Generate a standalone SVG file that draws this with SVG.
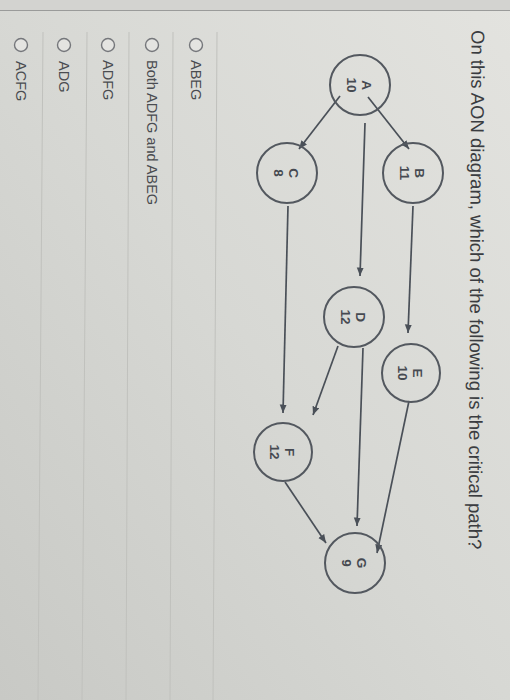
<svg xmlns="http://www.w3.org/2000/svg" width="510" height="700" viewBox="0 0 510 700">
  <defs>
    <linearGradient id="bg" x1="1" y1="0" x2="0" y2="1">
      <stop offset="0" stop-color="#e3e3df"/>
      <stop offset="0.5" stop-color="#d7d8d4"/>
      <stop offset="1" stop-color="#c8c9c5"/>
    </linearGradient>
    <marker id="arr" markerUnits="userSpaceOnUse" markerWidth="10" markerHeight="8" refX="8.5" refY="3.5" orient="auto">
      <path d="M0,0 L8.5,3.5 L0,7 z" fill="#4a5058"/>
    </marker>
    <style>
      .node circle { fill: none; stroke: #53585f; stroke-width: 2; }
      .node text { font-family: "Liberation Sans", Arial, sans-serif; font-weight: bold; font-size: 13.5px; fill: #464a51; text-anchor: middle; }
      .edge { stroke: #4a5058; stroke-width: 1.7; fill: none; marker-end: url(#arr); }
      .divider { stroke: #c0c1bd; stroke-width: 1; }
      .radio { fill: #e4e4e1; stroke: #75777b; stroke-width: 1.4; }
      .opt { font-family: "Liberation Sans", Arial, sans-serif; font-size: 14.5px; fill: #4a4c50; }
      .q { font-family: "Liberation Sans", Arial, sans-serif; font-size: 18.5px; fill: #3a3c40; }
    </style>
  </defs>

  <rect x="0" y="0" width="510" height="700" fill="url(#bg)"/>
  <rect x="0" y="0" width="510" height="10" fill="#d3d3d0"/>
  <line x1="0" y1="10.5" x2="510" y2="10.5" stroke="#9a9b9a" stroke-width="1"/>

  <!-- question -->
  <text class="q" transform="translate(471.5,30) rotate(90.33)">On this AON diagram, which of the following is the critical path?</text>

  <!-- option dividers -->
  <g id="dividers">
    <line class="divider" x1="43" y1="32" x2="38" y2="700"/>
    <line class="divider" x1="87" y1="32" x2="82" y2="700"/>
    <line class="divider" x1="129" y1="32" x2="126" y2="700"/>
    <line class="divider" x1="173" y1="32" x2="170" y2="700"/>
    <line class="divider" x1="217" y1="32" x2="213" y2="700"/>
  </g>

  <!-- options -->
  <g id="opt-abeg">
    <circle class="radio" cx="196" cy="45" r="6.5"/>
    <text class="opt" transform="translate(191,60) rotate(90)">ABEG</text>
  </g>
  <g id="opt-both">
    <circle class="radio" cx="152" cy="45" r="6.5"/>
    <text class="opt" transform="translate(147,60) rotate(90)">Both ADFG and ABEG</text>
  </g>
  <g id="opt-adfg">
    <circle class="radio" cx="108" cy="45" r="6.5"/>
    <text class="opt" transform="translate(103,60) rotate(90)">ADFG</text>
  </g>
  <g id="opt-adg">
    <circle class="radio" cx="64" cy="45" r="6.5"/>
    <text class="opt" transform="translate(59,61) rotate(90)">ADG</text>
  </g>
  <g id="opt-acfg">
    <circle class="radio" cx="21" cy="45" r="6.5"/>
    <text class="opt" transform="translate(16,61) rotate(90)">ACFG</text>
  </g>

  <!-- connectors -->
  <g id="connectors">
    <line class="edge" x1="368" y1="97" x2="409" y2="149"/>
    <line class="edge" x1="340" y1="96" x2="299" y2="149"/>
    <line class="edge" x1="365" y1="123" x2="360" y2="276"/>
    <line class="edge" x1="413" y1="206" x2="408" y2="333"/>
    <line class="edge" x1="288" y1="206" x2="283" y2="413"/>
    <line class="edge" x1="338" y1="346" x2="313" y2="415"/>
    <line class="edge" x1="363" y1="348" x2="357" y2="526"/>
    <line class="edge" x1="409" y1="401" x2="377" y2="553"/>
    <line class="edge" x1="285" y1="482" x2="326" y2="543"/>
  </g>

  <!-- nodes -->
  <g id="node-A" class="node" transform="translate(360,85) rotate(90)">
    <circle r="30"/>
    <text x="0" y="-2">A</text>
    <text x="0" y="13">10</text>
  </g>
  <g id="node-B" class="node" transform="translate(413,173) rotate(90)">
    <circle r="30"/>
    <text x="0" y="-2">B</text>
    <text x="0" y="13">11</text>
  </g>
  <g id="node-C" class="node" transform="translate(287,173) rotate(90)">
    <circle r="30"/>
    <text x="0" y="-2">C</text>
    <text x="0" y="13">8</text>
  </g>
  <g id="node-D" class="node" transform="translate(354,317) rotate(90)">
    <circle r="30"/>
    <text x="0" y="-2">D</text>
    <text x="0" y="13">12</text>
  </g>
  <g id="node-E" class="node" transform="translate(411,373) rotate(90)">
    <circle r="29"/>
    <text x="0" y="-2">E</text>
    <text x="0" y="13">10</text>
  </g>
  <g id="node-F" class="node" transform="translate(283,452) rotate(90)">
    <circle r="29"/>
    <text x="0" y="-2">F</text>
    <text x="0" y="13">12</text>
  </g>
  <g id="node-G" class="node" transform="translate(355,563) rotate(90)">
    <circle r="30"/>
    <text x="0" y="-2">G</text>
    <text x="0" y="13">9</text>
  </g>
</svg>
